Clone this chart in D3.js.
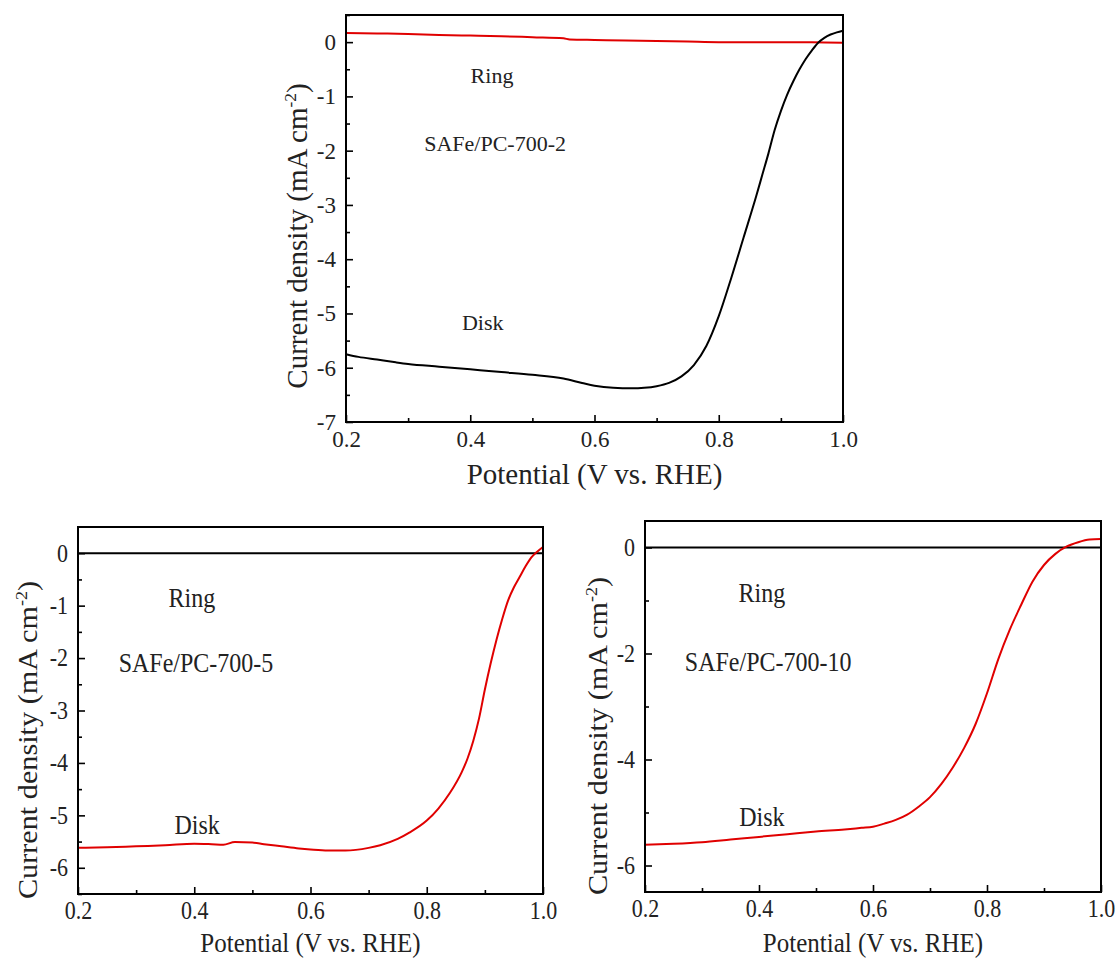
<!DOCTYPE html>
<html>
<head>
<meta charset="utf-8">
<script src="https://cdn.jsdelivr.net/npm/d3@7"></script>
<style>
  html, body { margin: 0; padding: 0; background: #fff; }
  svg text { font-family: "Liberation Serif", "Times New Roman", Tinos, "DejaVu Serif", serif !important; }
</style>
</head>
<body>
<svg id="chart" width="1120" height="958"></svg>
<script>
// ---------- DATA ----------
const xTicks = [0.2, 0.4, 0.6, 0.8, 1.0];
const xMinor = [0.3, 0.5, 0.7, 0.9];

// Panel 1: SAFe/PC-700-2
const p1DiskX = [0.20,0.22,0.25,0.28,0.30,0.35,0.40,0.43,0.45,0.50,0.55,0.58,0.60,0.63,0.66,0.68,0.70,0.72,0.74,0.76,0.78,0.80,0.82,0.84,0.86,0.87,0.88,0.89,0.90,0.91,0.92,0.93,0.94,0.95,0.96,0.97,0.98,0.99,1.00];
const p1DiskY = [-5.75,-5.80,-5.85,-5.90,-5.93,-5.98,-6.03,-6.06,-6.08,-6.13,-6.20,-6.28,-6.33,-6.37,-6.38,-6.37,-6.34,-6.28,-6.16,-5.95,-5.60,-5.05,-4.35,-3.60,-2.85,-2.45,-2.05,-1.62,-1.27,-0.97,-0.72,-0.50,-0.31,-0.15,-0.01,0.08,0.14,0.18,0.21];
const p1RingX = [0.20,0.25,0.30,0.35,0.40,0.45,0.50,0.55,0.56,0.60,0.65,0.70,0.75,0.80,0.85,0.90,0.95,1.00];
const p1RingY = [0.17,0.16,0.15,0.13,0.12,0.11,0.09,0.07,0.05,0.04,0.03,0.02,0.01,0.00,0.00,0.00,0.00,-0.01];
const p1YTicks = [0,-1,-2,-3,-4,-5,-6,-7];
const p1YMinor = [0.5,-0.5,-1.5,-2.5,-3.5,-4.5,-5.5,-6.5];

// Panel 2: SAFe/PC-700-5
const p2DiskX = [0.20,0.25,0.30,0.35,0.40,0.43,0.45,0.47,0.50,0.52,0.55,0.58,0.60,0.63,0.66,0.70,0.72,0.75,0.77,0.80,0.82,0.84,0.86,0.87,0.88,0.89,0.90,0.91,0.92,0.93,0.94,0.95,0.96,0.97,0.98,0.99,1.00];
const p2DiskY = [-5.62,-5.61,-5.59,-5.57,-5.54,-5.55,-5.56,-5.51,-5.52,-5.55,-5.59,-5.63,-5.65,-5.67,-5.67,-5.62,-5.57,-5.45,-5.33,-5.10,-4.87,-4.57,-4.18,-3.92,-3.58,-3.15,-2.60,-2.10,-1.65,-1.25,-0.90,-0.65,-0.45,-0.25,-0.08,0.03,0.12];
const p2RingX = [0.20,0.60,1.00];
const p2RingY = [0.00,0.00,0.00];
const p2YTicks = [0,-1,-2,-3,-4,-5,-6];
const p2YMinor = [-0.5,-1.5,-2.5,-3.5,-4.5,-5.5,-6.5];

// Panel 3: SAFe/PC-700-10
const p3DiskX = [0.20,0.25,0.30,0.35,0.40,0.45,0.50,0.55,0.58,0.60,0.62,0.64,0.66,0.68,0.70,0.72,0.74,0.76,0.78,0.80,0.82,0.84,0.86,0.88,0.90,0.92,0.94,0.96,0.98,1.00];
const p3DiskY = [-5.61,-5.59,-5.56,-5.51,-5.46,-5.41,-5.36,-5.32,-5.29,-5.27,-5.21,-5.14,-5.04,-4.89,-4.71,-4.46,-4.15,-3.78,-3.33,-2.75,-2.10,-1.55,-1.08,-0.64,-0.33,-0.12,0.02,0.10,0.15,0.16];
const p3RingX = [0.20,0.60,1.00];
const p3RingY = [0.00,0.00,0.00];
const p3YTicks = [0,-2,-4,-6];
const p3YMinor = [-1,-3,-5];

const xTitle = "Potential (V vs. RHE)";
const yTitle = "Current density (mA cm";
const labels = ["Ring", "Disk"];
const names = ["SAFe/PC-700-2", "SAFe/PC-700-5", "SAFe/PC-700-10"];

// ---------- DRAW ----------
const RED = "#e00000";
const FONT = "Liberation Serif";
const svg = d3.select("#chart");

function stretch(sel, sy) {
  if (sy === 1) return;
  sel.each(function () {
    const t = d3.select(this);
    const x = +t.attr("x") || 0, y = +t.attr("y") || 0;
    t.attr("transform", `translate(${x},${y}) scale(1,${sy}) translate(${-x},${-y})`);
  });
}

function panel(cfg) {
  const x = d3.scaleLinear().domain([0.2, 1.0]).range([cfg.left, cfg.right]);
  const y = d3.scaleLinear().domain(cfg.yDomain).range([cfg.bottom, cfg.top]);
  const g = svg.append("g");

  const fmtY = d => String(d);
  g.append("g").attr("transform", `translate(0,${cfg.bottom})`)
    .call(d3.axisBottom(x).tickValues(xMinor).tickSize(-cfg.minor).tickFormat(""))
    .call(a => a.select(".domain").remove());
  g.append("g").attr("transform", `translate(${cfg.left},0)`)
    .call(d3.axisLeft(y).tickValues(cfg.yMinor).tickSize(-cfg.minor).tickFormat(""))
    .call(a => a.select(".domain").remove());
  const xa = g.append("g").attr("transform", `translate(0,${cfg.bottom})`)
    .call(d3.axisBottom(x).tickValues(xTicks).tickSize(-cfg.major).tickPadding(cfg.xPad).tickFormat(d3.format(".1f")));
  xa.select(".domain").remove();
  const ya = g.append("g").attr("transform", `translate(${cfg.left},0)`)
    .call(d3.axisLeft(y).tickValues(cfg.yTicks).tickSize(-cfg.major).tickPadding(cfg.yPad).tickFormat(fmtY));
  ya.select(".domain").remove();
  g.selectAll("g").attr("font-family", FONT);
  g.selectAll(".tick line").attr("stroke", "#000").attr("stroke-width", 1.6);
  g.selectAll(".tick text").attr("font-family", FONT).attr("font-size", cfg.tickFont).attr("fill", "#222")
    .call(stretch, cfg.sy);

  const line = d3.line().curve(d3.curveMonotoneX).x(d => x(d[0])).y(d => y(d[1]));
  cfg.series.forEach(s => {
    g.append("path").datum(d3.zip(s.x, s.y))
      .attr("fill", "none").attr("stroke", s.color).attr("stroke-width", 2)
      .attr("stroke-linejoin", "round").attr("d", line);
  });

  g.append("rect").attr("x", cfg.left).attr("y", cfg.top)
    .attr("width", cfg.right - cfg.left).attr("height", cfg.bottom - cfg.top)
    .attr("fill", "none").attr("stroke", "#000").attr("stroke-width", 2);

  cfg.notes.forEach(n => {
    g.append("text").attr("x", x(n.x)).attr("y", y(n.y)).attr("dy", "0.35em")
      .attr("font-family", FONT).attr("text-anchor", "middle").attr("font-size", cfg.noteFont)
      .attr("fill", "#222").text(n.t).call(stretch, cfg.sy);
  });

  g.append("text").attr("x", (cfg.left + cfg.right) / 2).attr("y", cfg.xTitleY)
    .attr("font-family", FONT).attr("text-anchor", "middle").attr("font-size", cfg.xTitleFont)
    .attr("fill", "#222").text(xTitle).call(stretch, cfg.sy);
  const yt = g.append("text")
    .attr("transform", `translate(${cfg.yTitleX},${cfg.yTitleY}) scale(1,${cfg.sy}) rotate(-90)`)
    .attr("font-family", FONT).attr("dy", "0.35em").attr("text-anchor", "middle")
    .attr("font-size", cfg.yTitleFont).attr("fill", "#222");
  yt.append("tspan").text(yTitle);
  yt.append("tspan").attr("font-size", cfg.yTitleFont * 0.6).attr("dy", -cfg.yTitleFont * 0.4).text("-2");
  yt.append("tspan").attr("dy", cfg.yTitleFont * 0.4).text(")");
}

panel({
  left: 346, right: 843, top: 15, bottom: 422, yDomain: [-7, 0.5], sy: 1,
  yTicks: p1YTicks, yMinor: p1YMinor, major: 7, minor: 4, xPad: 9, yPad: 10,
  tickFont: 23, xTitleFont: 29, yTitleFont: 29, noteFont: 22, xTitleY: 484, yTitleX: 297, yTitleY: 236,
  series: [{x: p1RingX, y: p1RingY, color: RED}, {x: p1DiskX, y: p1DiskY, color: "#000"}],
  notes: [{t: labels[0], x: 0.435, y: -0.61}, {t: names[0], x: 0.44, y: -1.86}, {t: labels[1], x: 0.42, y: -5.17}]
});
panel({
  left: 78, right: 543, top: 527, bottom: 894, yDomain: [-6.5, 0.5], sy: 1.12,
  yTicks: p2YTicks, yMinor: p2YMinor, major: 7, minor: 4, xPad: 8, yPad: 10,
  tickFont: 22, xTitleFont: 25, yTitleFont: 27, noteFont: 24, xTitleY: 952, yTitleX: 28, yTitleY: 740,
  series: [{x: p2RingX, y: p2RingY, color: "#000"}, {x: p2DiskX, y: p2DiskY, color: RED}],
  notes: [{t: labels[0], x: 0.396, y: -0.85}, {t: names[1], x: 0.403, y: -2.08}, {t: labels[1], x: 0.405, y: -5.17}]
});
panel({
  left: 645, right: 1101, top: 521, bottom: 892, yDomain: [-6.5, 0.5], sy: 1.12,
  yTicks: p3YTicks, yMinor: p3YMinor, major: 7, minor: 4, xPad: 8, yPad: 10,
  tickFont: 22, xTitleFont: 25, yTitleFont: 27, noteFont: 24, xTitleY: 952, yTitleX: 598, yTitleY: 736,
  series: [{x: p3RingX, y: p3RingY, color: "#000"}, {x: p3DiskX, y: p3DiskY, color: RED}],
  notes: [{t: labels[0], x: 0.405, y: -0.86}, {t: names[2], x: 0.416, y: -2.15}, {t: labels[1], x: 0.405, y: -5.07}]
});
</script>
</body>
</html>
